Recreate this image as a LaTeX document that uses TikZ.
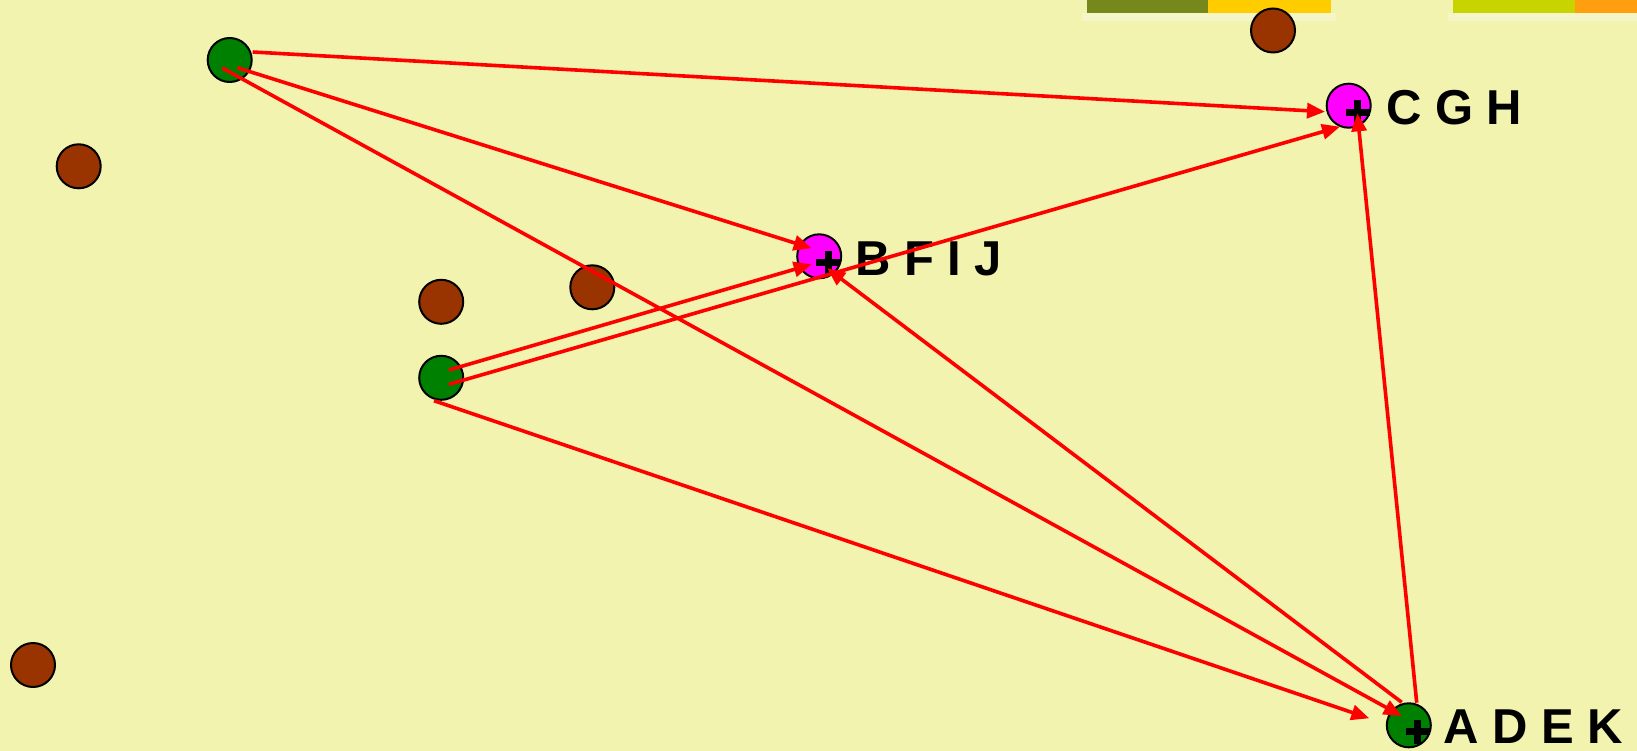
\documentclass[tikz,border=0pt]{standalone}
\usepackage{fontspec}
\setmainfont{Liberation Sans}
\usetikzlibrary{arrows.meta,calc}
\definecolor{bg}{RGB}{241,243,175}
\definecolor{olivebar}{RGB}{118,136,28}
\definecolor{yellowbar}{RGB}{255,204,0}
\definecolor{limebar}{RGB}{200,212,0}
\definecolor{orangebar}{RGB}{255,158,14}
\definecolor{brownfill}{RGB}{153,51,0}
\definecolor{greenfill}{RGB}{0,128,0}
\definecolor{magentafill}{RGB}{255,0,255}
\definecolor{redline}{RGB}{255,0,0}
\definecolor{barshade}{RGB}{245,246,200}
\tikzset{
  dot/.style={circle,draw=black,line width=2pt,minimum size=44pt,inner sep=0pt},
  browndot/.style={dot,fill=brownfill},
  greendot/.style={dot,fill=greenfill},
  magdot/.style={dot,fill=magentafill},
  conn/.style={draw=redline,line width=3.6pt,-{Triangle[length=18pt,width=15pt]}},
  plusbar/.style={draw=black,line width=7pt,line cap=butt},
  lbl/.style={font=\bfseries\fontsize{49}{49}\selectfont,inner sep=0pt,anchor=base west,text=black}
}
\begin{document}
\begin{tikzpicture}[x=1pt,y=-1pt]
\fill[bg] (0,0) rectangle (1637,751);
\useasboundingbox (0,0) rectangle (1637,751);
% top bars
\fill[barshade] (1082,13.5) rectangle (1336,21);
\fill[barshade] (1448,13.5) rectangle (1637,21);
\fill[olivebar] (1087,0) rectangle (1208,13.5);
\fill[yellowbar] (1208,0) rectangle (1331,13.5);
\fill[limebar] (1452.7,0) rectangle (1575,13.5);
\fill[orangebar] (1575,0) rectangle (1637,13.5);
% brown points
\node[browndot] (b1) at (78.7,166.3) {};
\node[browndot] (b2) at (33,665) {};
\node[browndot] (b3) at (441.2,301.8) {};
\node[browndot] (b4) at (592.3,287.3) {};
\node[browndot] (b5) at (1273,30.5) {};
% green points
\node[greendot] (gtl) at (229.7,60) {};
\node[greendot] (gmid) at (441.2,377.8) {};
\node[greendot] (adek) at (1408.8,725.3) {};
% magenta points
\node[magdot] (bfij) at (819.2,256.3) {};
\node[magdot] (cgh) at (1348.7,105.7) {};
% plus marks
\foreach \n in {bfij,cgh,adek}{
  \draw[plusbar] ($(\n)+(-3,6.5)$) -- ($(\n)+(21,6.5)$);
  \draw[plusbar] ($(\n)+(9,-5.5)$) -- ($(\n)+(9,18.5)$);
}
% labels
\node[lbl] (lcgh) at (1386,125) {C G H};
\node[lbl] (lbfij) at (855,275) {B F I J};
\node[lbl] (ladek) at (1443,743.3) {A D E K};
% connectors
\draw[conn] ($(gtl)+(23,-8)$) -- ($(cgh)+(-23.7,6)$);
\draw[conn] ($(gtl)+(7.6,7.7)$) -- ($(bfij)+(-7.5,-8)$);
\draw[conn] ($(gtl)+(-7.4,8)$) -- ($(adek)+(-7.1,-9.3)$);
\draw[conn] ($(gmid)+(7.8,-7.8)$) -- ($(bfij)+(-7.5,8)$);
\draw[conn] ($(gmid)+(7.8,6.5)$) -- ($(cgh)+(-8.7,21)$);
\draw[conn] ($(gmid)+(-7.2,22.9)$) -- ($(adek)+(-39.5,-7)$);
\draw[conn] ($(adek)+(-7.1,-23)$) -- ($(bfij)+(8,12)$);
\draw[conn] ($(adek)+(7.9,-22.6)$) -- ($(cgh)+(8.6,7.6)$);
\end{tikzpicture}
\end{document}
